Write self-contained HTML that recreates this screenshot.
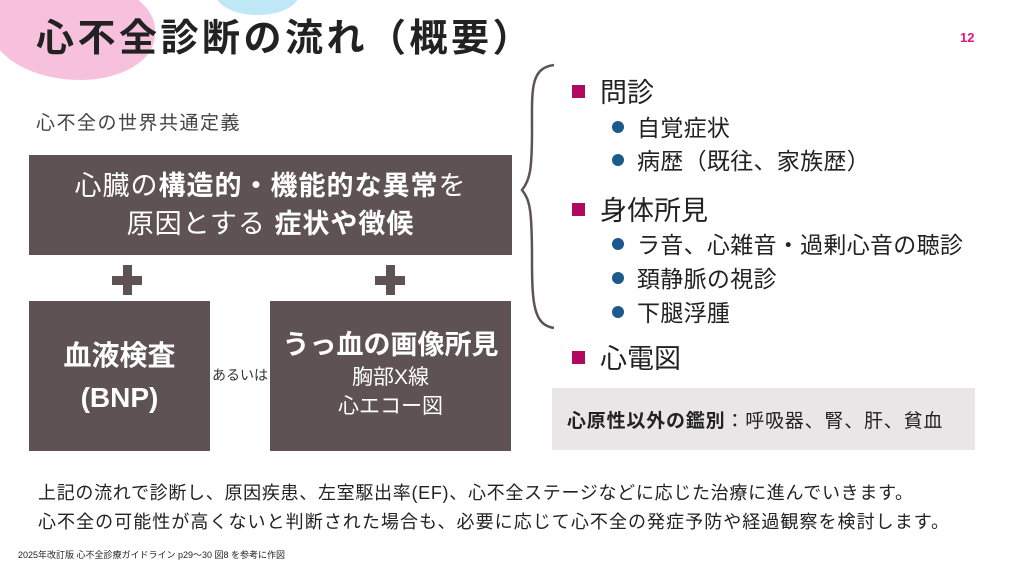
<!DOCTYPE html>
<html><head><meta charset="utf-8"><style>
*{margin:0;padding:0;box-sizing:border-box}
body{width:1024px;height:576px;background:#fff;position:relative;overflow:hidden;font-family:"Liberation Sans","Noto Sans CJK JP",sans-serif;color:#333}
.a{position:absolute;white-space:nowrap}
.box{position:absolute;background:#5f5254;color:#fff;text-align:center}
.plus{position:absolute;width:30px;height:30px}
.plus:before{content:"";position:absolute;left:0;top:11px;width:30px;height:9px;background:#5f5254}
.plus:after{content:"";position:absolute;left:11px;top:0;width:9px;height:30px;background:#5f5254}
.sq{position:absolute;width:13px;height:13px;background:#b0095f}
.dot{position:absolute;width:12px;height:12px;border-radius:50%;background:#1a5a8c}
.s{font-size:23px;color:#222;letter-spacing:0.3px}
b{font-weight:bold}
</style></head><body>
<div class="a" style="left:-10px;top:-20px;width:165px;height:100px;background:#f7c1de;border-radius:40% 50% 45% 55%"></div>
<div class="a" style="left:215px;top:-30px;width:85px;height:45px;background:#bfe8f6;border-radius:50%"></div>
<div class="a" style="left:36px;top:7px;font-size:38px;font-weight:bold;color:#222;letter-spacing:3.5px">心不全診断の流れ（概要）</div>
<div class="a" style="left:960px;top:30px;font-size:13px;font-weight:bold;color:#e0157a">12</div>
<div class="a" style="left:36px;top:108px;font-size:19px;color:#444;letter-spacing:1.5px">心不全の世界共通定義</div>
<div class="box" style="left:29px;top:155px;width:483px;height:100px;font-size:27px;line-height:38px;padding-top:12px;letter-spacing:1px">心臓の<b>構造的・機能的な異常</b>を<br>原因とする <b>症状や徴候</b></div>
<div class="plus" style="left:112px;top:265px"></div>
<div class="plus" style="left:375px;top:265px"></div>
<div class="box" style="left:29px;top:301px;width:181px;height:150px;font-size:28px;font-weight:bold;line-height:42px;padding-top:34px">血液検査<br>(BNP)</div>
<div class="a" style="left:212px;top:365px;font-size:14px;color:#333">あるいは</div>
<div class="box" style="left:270px;top:301px;width:241px;height:150px;padding-top:26px"><div style="font-size:27px;font-weight:bold;line-height:36px">うっ血の画像所見</div><div style="font-size:21px;line-height:29px">胸部X線<br>心エコー図</div></div>
<svg class="a" style="left:520px;top:60px" width="40" height="275"><path d="M34 5 C10 8 12 30 12 70 C12 110 10 120 2 130 C10 140 12 150 12 200 C12 245 14 265 34 268" fill="none" stroke="#5f5254" stroke-width="2.5"/></svg>
<div class="sq" style="left:572px;top:85px"></div>
<div class="a" style="left:600px;top:71px;font-size:27px;color:#222">問診</div>
<div class="dot" style="left:612px;top:121px"></div>
<div class="a s" style="left:637px;top:109px">自覚症状</div>
<div class="dot" style="left:612px;top:154px"></div>
<div class="a s" style="left:637px;top:142px">病歴（既往、家族歴）</div>
<div class="sq" style="left:572px;top:203px"></div>
<div class="a" style="left:600px;top:189px;font-size:27px;color:#222">身体所見</div>
<div class="dot" style="left:612px;top:238px"></div>
<div class="a s" style="left:637px;top:226px">ラ音、心雑音・過剰心音の聴診</div>
<div class="dot" style="left:612px;top:272px"></div>
<div class="a s" style="left:637px;top:260px">頚静脈の視診</div>
<div class="dot" style="left:612px;top:306px"></div>
<div class="a s" style="left:637px;top:294px">下腿浮腫</div>
<div class="sq" style="left:572px;top:351px"></div>
<div class="a" style="left:600px;top:337px;font-size:27px;color:#222">心電図</div>
<div class="a" style="left:552px;top:388px;width:423px;height:62px;background:#e8e6e7"></div>
<div class="a" style="left:567px;top:406px;font-size:19px;color:#222;letter-spacing:0.8px"><b>心原性以外の鑑別</b>：呼吸器、腎、肝、貧血</div>
<div class="a" style="left:38px;top:479px;font-size:18px;color:#222;letter-spacing:0.7px">上記の流れで診断し、原因疾患、左室駆出率(EF)、心不全ステージなどに応じた治療に進んでいきます。</div>
<div class="a" style="left:38px;top:508px;font-size:18px;color:#222;letter-spacing:1.05px">心不全の可能性が高くないと判断された場合も、必要に応じて心不全の発症予防や経過観察を検討します。</div>
<div class="a" style="left:18px;top:548px;font-size:9px;color:#222">2025年改訂版 心不全診療ガイドライン p29～30 図8 を参考に作図</div>
</body></html>
